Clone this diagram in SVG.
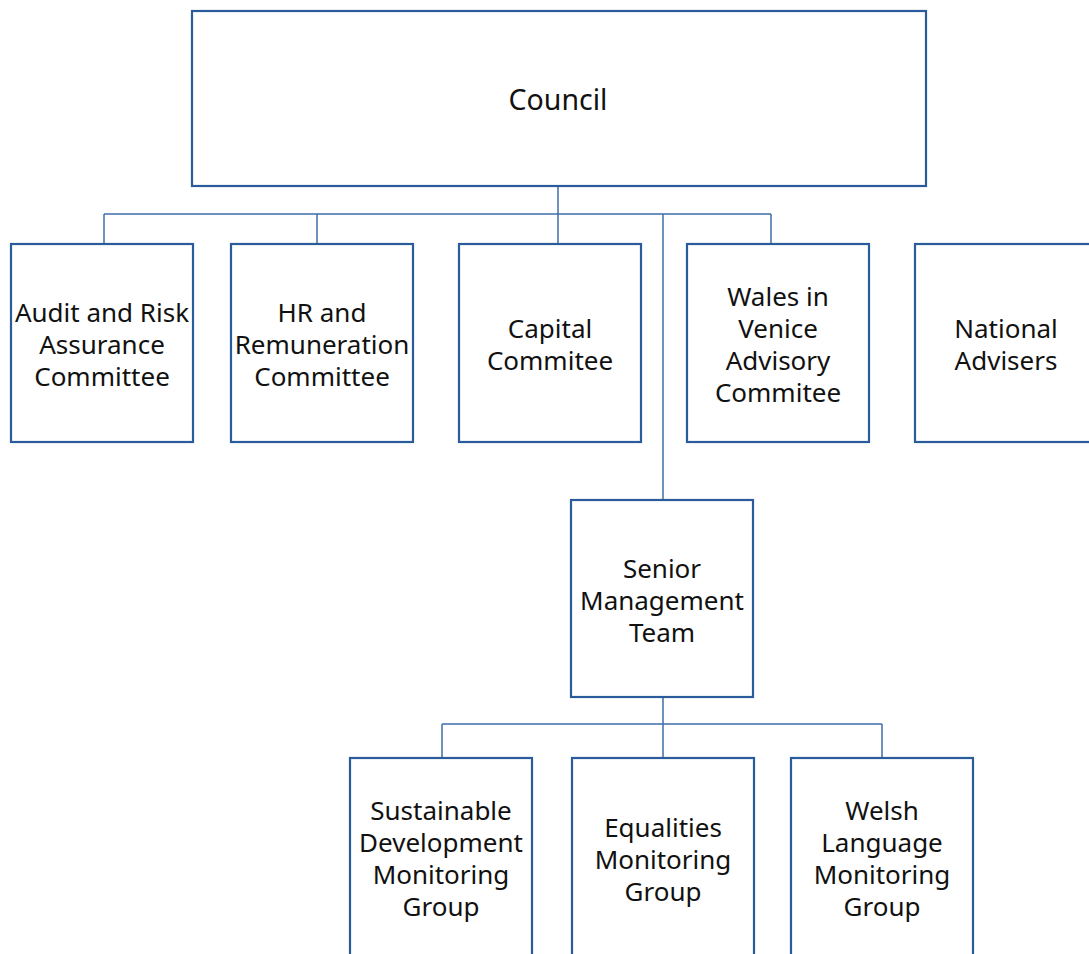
<svg xmlns="http://www.w3.org/2000/svg" width="1089" height="954" viewBox="0 0 1089 954">
<style>
.box{fill:#fff;stroke:#2a5b9b;stroke-width:2.2}
.t{font-family:"Noto Sans","Open Sans",sans-serif;font-size:26px;fill:#111;text-anchor:middle}
.c{fill:none;stroke:#3f6fa8;stroke-width:1.5}
</style>
<rect width="1089" height="954" fill="#fff"/>
<g id="connectors">
<path class="c" d="M558 186V246M104 214H771M104 214V244M317 214V244M771 214V244M663 214V500M663 697V758M442 724H882M442 724V758M882 724V758"/>
</g>
<g id="council"><rect class="box" x="192" y="11" width="734" height="175"/><text class="t" x="558" y="110" style="font-size:28.5px">Council</text></g>
<g id="audit"><rect class="box" x="11" y="244" width="182" height="198"/><text class="t" x="102"><tspan x="102" y="322">Audit and Risk</tspan><tspan x="102" y="354">Assurance</tspan><tspan x="102" y="386">Committee</tspan></text></g>
<g id="hr"><rect class="box" x="231" y="244" width="182" height="198"/><text class="t"><tspan x="322" y="322">HR and</tspan><tspan x="322" y="354">Remuneration</tspan><tspan x="322" y="386">Committee</tspan></text></g>
<g id="capital"><rect class="box" x="459" y="244" width="182" height="198"/><text class="t"><tspan x="550" y="338">Capital</tspan><tspan x="550" y="370">Commitee</tspan></text></g>
<g id="wales"><rect class="box" x="687" y="244" width="182" height="198"/><text class="t"><tspan x="778" y="306">Wales in</tspan><tspan x="778" y="338">Venice</tspan><tspan x="778" y="370">Advisory</tspan><tspan x="778" y="402">Commitee</tspan></text></g>
<g id="national"><rect class="box" x="915" y="244" width="182" height="198"/><text class="t"><tspan x="1006" y="338">National</tspan><tspan x="1006" y="370">Advisers</tspan></text></g>
<g id="senior"><rect class="box" x="571" y="500" width="182" height="197"/><text class="t"><tspan x="662" y="578">Senior</tspan><tspan x="662" y="610">Management</tspan><tspan x="662" y="642">Team</tspan></text></g>
<g id="sustainable"><rect class="box" x="350" y="758" width="182" height="210"/><text class="t"><tspan x="441" y="820">Sustainable</tspan><tspan x="441" y="852">Development</tspan><tspan x="441" y="884">Monitoring</tspan><tspan x="441" y="916">Group</tspan></text></g>
<g id="equalities"><rect class="box" x="572" y="758" width="182" height="210"/><text class="t"><tspan x="663" y="837">Equalities</tspan><tspan x="663" y="869">Monitoring</tspan><tspan x="663" y="901">Group</tspan></text></g>
<g id="welsh"><rect class="box" x="791" y="758" width="182" height="210"/><text class="t"><tspan x="882" y="820">Welsh</tspan><tspan x="882" y="852">Language</tspan><tspan x="882" y="884">Monitoring</tspan><tspan x="882" y="916">Group</tspan></text></g>
</svg>
